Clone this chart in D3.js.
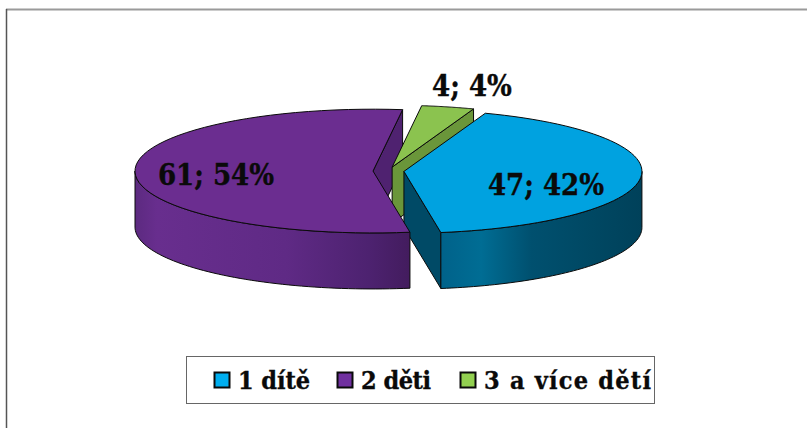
<!DOCTYPE html>
<html><head><meta charset="utf-8">
<script src="https://cdn.jsdelivr.net/npm/d3@7/dist/d3.min.js"></script>
<style>html,body{margin:0;padding:0;background:#fff}svg{display:block}
text{font-family:"DejaVu Serif Condensed","DejaVu Serif",serif;font-stretch:condensed;font-weight:700;fill:#0a0a0a;stroke:#0a0a0a;stroke-width:.35px}</style>
</head><body><svg id="c" width="807" height="428"></svg>
<script>
const categories = ["1 dítě", "2 děti", "3 a více dětí"];
const values = [47, 61, 4];
const percents = [42, 54, 4];
const topColors = ["#00a2e0", "#6b2d90", "#8bc34f"];
const legendColors = ["#00aeef", "#7030a0", "#92d050"];
const innerColors = ["#004a66", "#4f2270", "#6a963a"];
const wallStops = [
  [[0, "#00628a"], [0.2, "#006d94"], [0.45, "#00506f"], [0.75, "#004863"], [1, "#00415a"]],
  [[0, "#5c2a80"], [0.08, "#682e8e"], [0.55, "#5f2a85"], [0.85, "#4d2270"], [1, "#431c5e"]],
  [[0, "#6a963a"], [1, "#6a963a"]]
];

const svg = d3.select("#c");
const W = 807, H = 428;
const cx = 388.5, cy = 171, R = 238, tilt = 0.26, explode = 15.5, depth = 56;
const x = d3.scaleLinear().domain([-1, 1]).range([cx - 1, cx + 1]);
const y = d3.scaleLinear().domain([-1, 1]).range([cy - tilt, cy + tilt]);

const pie = d3.pie().sort(null).value(d => d).startAngle(20 * Math.PI / 180).endAngle(380 * Math.PI / 180);
const arcs = pie(values);
const line = d3.line();

function geom(a) {
  const mid = (a.startAngle + a.endAngle) / 2;
  const ox = explode * Math.sin(mid), oy = -explode * Math.cos(mid);
  const P = (ang, r) => [x(ox + r * Math.sin(ang)), y(oy - r * Math.cos(ang))];
  const down = p => [p[0], p[1] + depth];
  const sample = (s, e) => d3.range(0, 61).map(i => P(s + (e - s) * i / 60, R));
  return {P, down, sample, apex: P(0, 0)};
}
const defs = svg.append("defs");
wallStops.forEach((stops, i) => {
  const g = geom(arcs[i]);
  const s = Math.max(arcs[i].startAngle, Math.PI / 2), e = Math.min(arcs[i].endAngle, 3 * Math.PI / 2);
  const xs = e > s ? g.sample(s, e).map(p => p[0]) : [0, 1];
  const lg = defs.append("linearGradient").attr("id", "w" + i).attr("gradientUnits", "userSpaceOnUse")
    .attr("x1", d3.min(xs)).attr("x2", d3.max(xs)).attr("y1", 0).attr("y2", 0);
  stops.forEach(t => lg.append("stop").attr("offset", t[0]).attr("stop-color", t[1]));
});

svg.append("line").attr("x1", 6).attr("x2", W).attr("y1", 9.5).attr("y2", 9.5).attr("stroke", "#9a9a9a").attr("stroke-width", 2);
svg.append("line").attr("x1", 6.5).attr("x2", 6.5).attr("y1", 9).attr("y2", H).attr("stroke", "#555").attr("stroke-width", 1.5);

const stroke = sel => sel.attr("stroke", "#0a0a0a").attr("stroke-width", 1).attr("stroke-linejoin", "round");
function face(pts, fill) {
  svg.append("path").attr("d", line(pts) + "Z").attr("fill", fill).call(stroke);
}
function innerWall(i, ang) {
  const g = geom(arcs[i]);
  const a = g.apex, b = g.P(ang, R);
  face([a, b, g.down(b), g.down(a)], innerColors[i]);
}
function outerWall(i) {
  const g = geom(arcs[i]);
  const s = Math.max(arcs[i].startAngle, Math.PI / 2), e = Math.min(arcs[i].endAngle, 3 * Math.PI / 2);
  if (e <= s) return;
  const rim = g.sample(s, e);
  face(rim.concat(rim.map(g.down).reverse()), `url(#w${i})`);
}
function topFace(i) {
  const g = geom(arcs[i]);
  face([g.apex].concat(g.sample(arcs[i].startAngle, arcs[i].endAngle)), topColors[i]);
}

// painter's order: purple notch wall, green, blue, purple front
innerWall(1, arcs[1].endAngle);
innerWall(2, arcs[2].endAngle);
topFace(2);
innerWall(0, arcs[0].endAngle);
outerWall(0);
topFace(0);
outerWall(1);
topFace(1);

// data labels
const labelPos = [[546, 195], [216, 185], [472, 96]];
values.forEach((v, i) => {
  svg.append("text").attr("x", labelPos[i][0]).attr("y", labelPos[i][1]).attr("text-anchor", "middle")
    .attr("font-size", 29).text(`${v}; ${percents[i]}%`);
});

// legend
svg.append("rect").attr("x", 186.5).attr("y", 356.5).attr("width", 468).attr("height", 47)
  .attr("fill", "#fff").attr("stroke", "#666").attr("stroke-width", 1);
const legendX = [214, 337, 460];
const legendTextWidths = [72, 70, 167];
categories.forEach((c, i) => {
  svg.append("rect").attr("x", legendX[i] + 0.5).attr("y", 372.5).attr("width", 15).attr("height", 15)
    .attr("fill", legendColors[i]).attr("stroke", "#0a0a0a").attr("stroke-width", 2);
  svg.append("text").attr("x", legendX[i] + 24).attr("y", 389).attr("font-size", 25)
    .attr("textLength", legendTextWidths[i]).attr("lengthAdjust", "spacing").text(c);
});
</script></body></html>
